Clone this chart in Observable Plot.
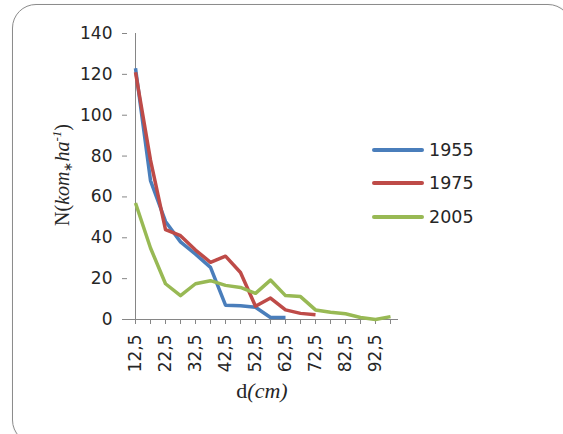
<!DOCTYPE html>
<html>
<head>
<meta charset="utf-8">
<script src="https://cdn.jsdelivr.net/npm/d3@7"></script>
<script src="https://cdn.jsdelivr.net/npm/@observablehq/plot@0.6"></script>
<style>
  html, body { margin: 0; padding: 0; background: #fff; }
  #wrap { position: relative; width: 563px; height: 434px; overflow: hidden; }
  #frame { position: absolute; left: 12px; top: 4px; width: 560px; height: 440px;
           border: 1.5px solid #8c8c8c; border-radius: 24px; box-sizing: border-box;
           box-shadow: 1px 1px 2px rgba(0,0,0,0.25); }
  #chart { position: absolute; left: 0; top: 0; }
  #legend { position: absolute; left: 372px; top: 133px; font-family: "DejaVu Sans", sans-serif;
            font-size: 17.5px; color: #262626; }
  #legend .item { display: flex; align-items: center; height: 33.5px; }
  #legend .sw { width: 52px; height: 4px; border-radius: 2px; margin-right: 5px; }
</style>
</head>
<body>
<div id="wrap">
  <div id="frame"></div>
  <div id="chart"></div>
  <div id="legend"></div>
</div>
<script>
// Diameter classes (x categories / tick labels)
const dClasses = ["12,5","17,5","22,5","27,5","32,5","37,5","42,5","47,5","52,5","57,5","62,5","67,5","72,5","77,5","82,5","87,5","92,5","97,5"];
// Series names and colours
const seriesNames = ["1955", "1975", "2005"];
const seriesColors = ["#4a7ebb", "#be4b48", "#98b954"];
// Values N (kom·ha-1)
const n1955 = [123, 68, 48, 38, 32, 25.5, 7, 6.7, 6, 1, 1];
const n1975 = [121, 78, 44, 41, 34, 28, 31, 23, 6.5, 10.5, 4.7, 3, 2.3];
const n2005 = [57, 35, 17.5, 11.7, 17.5, 19, 16.7, 15.7, 12.8, 19.3, 11.7, 11.2, 4.7, 3.6, 2.8, 1, 0, 1.4];
const yTicks = [0, 20, 40, 60, 80, 100, 120, 140];

const seriesValues = [n1955, n1975, n2005];
const rows = [];
seriesValues.forEach((vals, s) => vals.forEach((v, i) => rows.push({d: dClasses[i], n: v, year: seriesNames[s]})));

const font = "DejaVu Sans, sans-serif";
const plot = Plot.plot({
  width: 563,
  height: 434,
  marginLeft: 127,
  marginRight: 165,
  marginTop: 33,
  marginBottom: 115,
  style: {fontFamily: font, fontSize: "17px", color: "#262626", background: "transparent"},
  x: {type: "point", domain: dClasses, padding: 0},
  y: {domain: [0, 140]},
  color: {domain: seriesNames, range: seriesColors},
  marks: [
    Plot.axisY({ticks: yTicks, tickSize: 5, tickPadding: 10, stroke: "#868686", fill: "#262626", label: null, tickFormat: d => String(d)}),
    Plot.axisX({tickSize: 5, tickPadding: 10, tickRotate: -90, stroke: "#868686", fill: "#262626", label: null,
                tickFormat: (d) => (dClasses.indexOf(d) % 2 === 0 ? d : "")}),
    Plot.ruleX([dClasses[0]], {stroke: "#868686", strokeWidth: 1}),
    Plot.ruleY([0], {stroke: "#868686", strokeWidth: 1}),
    Plot.line(rows, {x: "d", y: "n", z: "year", stroke: "year", strokeWidth: 3.5, strokeLinejoin: "round", strokeLinecap: "butt"})
  ]
});
document.getElementById("chart").appendChild(plot);

// Axis titles with mixed styling
const svg = d3.select(plot);
const yl = svg.append("text")
  .attr("transform", "translate(69,175) rotate(-90)")
  .attr("text-anchor", "middle")
  .attr("font-family", "Liberation Serif, serif")
  .attr("font-size", 20)
  .attr("fill", "#262626");
yl.append("tspan").text("N(");
yl.append("tspan").attr("font-style", "italic").text("kom");
yl.append("tspan").attr("dy", 3).attr("font-size", 12).text("∗");
yl.append("tspan").attr("dy", -3).attr("font-style", "italic").text("ha");
yl.append("tspan").attr("dy", -8).attr("font-size", 13).attr("font-style", "italic").text("-1");
yl.append("tspan").attr("dy", 8).text(")");

const xl = svg.append("text")
  .attr("x", 262).attr("y", 398)
  .attr("text-anchor", "middle")
  .attr("font-family", "Liberation Serif, serif")
  .attr("font-size", 22)
  .attr("fill", "#262626");
xl.append("tspan").text("d");
xl.append("tspan").attr("font-style", "italic").text("(cm)");

// Legend
const leg = d3.select("#legend");
seriesNames.forEach((name, i) => {
  const it = leg.append("div").attr("class", "item");
  it.append("div").attr("class", "sw").style("background", seriesColors[i]);
  it.append("span").text(name);
});
</script>
</body>
</html>
